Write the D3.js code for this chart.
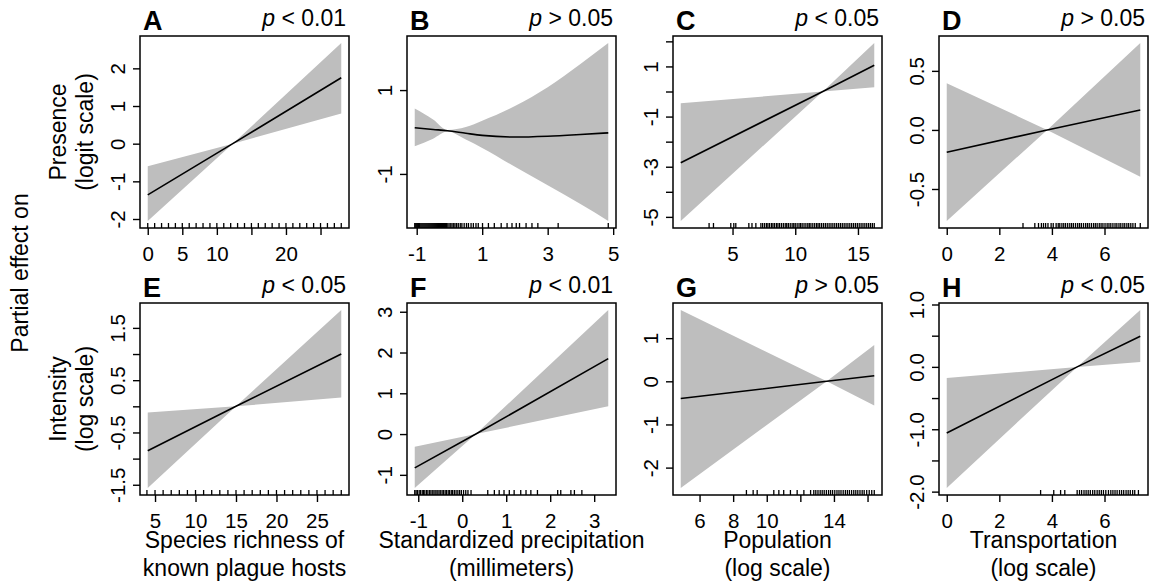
<!DOCTYPE html>
<html>
<head>
<meta charset="utf-8">
<script src="https://d3js.org/d3.v7.min.js"></script>
<style>
body {
  margin: 0;
  background: #fff;
}
svg text {
  font-family: "Liberation Sans", Arial, sans-serif;
  fill: #000;
}
.axis text {
  font-size: 20.5px;
}
.axis line {
  stroke: #000;
  stroke-width: 1.4;
}
.letter {
  font-size: 27px;
  font-weight: bold;
}
.pval, .title {
  font-size: 23px;
}
</style>
</head>
<body>
<script>

// A: presence ~ species richness
var xA = [0, 12.3, 28];
var fitA = [-1.36, 0, 1.75];
var loA = [-2.05, 0, 0.80];
var hiA = [-0.60, 0, 2.67];
var rugA = [0,1,2,3,4,5,6,7,8,9,10,11,12,13,14,15,16,17,18,19,20,21,22,23,24,25,26,27,28];

// B: presence ~ precipitation (quadratic)
var xB = [-1.06, -0.5, -0.06, 0.5, 1, 2, 3, 4, 4.85];
var fitB = [0.10, 0.06, 0.03, -0.03, -0.08, -0.12, -0.10, -0.06, -0.02];
var loB = [-0.34, -0.16, 0.01, -0.18, -0.38, -0.83, -1.27, -1.72, -2.12];
var hiB = [0.56, 0.30, 0.05, 0.12, 0.27, 0.62, 1.07, 1.62, 2.12];
var rugB = [-1.06,-1.03,-1.0,-0.97,-0.95,-0.92,-0.9,-0.87,-0.84,-0.81,-0.78,-0.75,-0.72,-0.69,-0.66,
  -0.63,-0.6,-0.57,-0.54,-0.51,-0.48,-0.45,-0.42,-0.39,-0.36,-0.33,-0.3,-0.27,-0.24,-0.21,-0.18,
  -0.15,-0.12,-0.09,-0.05,-0.01,0.04,0.08,0.13,0.17,0.22,0.27,0.33,0.38,0.45,0.52,0.58,0.66,0.73,
  0.81,0.88,1.01,1.19,1.37,1.58,1.76,1.91,2.04,2.14,2.34,2.52,2.70,3.32,4.85];

// C: presence ~ population
var xC = [0.87, 12.2, 16.3];
var fitC = [-2.84, 0, 1.05];
var loC = [-5.16, 0, 0.17];
var hiC = [-0.47, 0, 1.93];
var rugC = [3.13,3.48,4.86,5.1,5.26,6.3,6.55,6.86,7.26,7.4,7.55,7.7,7.82,7.95,8.1,8.22,8.35,8.5,
  8.62,8.75,8.9,9.05,9.2,9.32,9.45,9.6,9.75,9.88,10.0,10.15,10.3,10.42,10.55,10.7,10.85,11.0,11.12,
  11.25,11.4,11.55,11.7,11.82,11.95,12.1,12.25,12.4,12.55,12.7,12.85,13.0,13.15,13.3,13.45,13.6,
  13.75,13.9,14.05,14.2,14.35,14.5,14.65,14.8,14.95,15.1,15.25,15.4,15.55,15.7,15.85,16.0,16.15,16.3];

// D: presence ~ transportation
var xD = [0, 3.82, 7.36];
var fitD = [-0.189, 0, 0.169];
var loD = [-0.77, 0, -0.396];
var hiD = [0.396, 0, 0.735];
var rugD = [2.9,3.35,3.49,3.6,3.68,3.76,3.85,3.97,4.05,4.16,4.24,4.3,4.38,4.45,4.52,4.6,4.68,4.75,
  4.82,4.9,4.98,5.05,5.12,5.2,5.28,5.35,5.42,5.5,5.58,5.65,5.72,5.8,5.87,5.94,6.02,6.1,6.17,6.24,
  6.32,6.4,6.47,6.55,6.62,6.7,6.77,6.85,6.92,7.0,7.08,7.17,7.36];

// E: intensity ~ species richness
var xE = [4.1, 15, 28];
var fitE = [-0.85, 0, 1.00];
var loE = [-1.56, 0, 0.17];
var hiE = [-0.12, 0, 1.84];
var rugE = [4,5,6,7,8,9,10,11,12,13,14,15,16,17,18,19,20,21,22,23,24,25,26,27,28];

// F: intensity ~ precipitation
var xF = [-1.08, 0.31, 3.32];
var fitF = [-0.83, 0, 1.85];
var loF = [-1.32, 0, 0.68];
var hiF = [-0.31, 0, 3.04];
var rugF = [-1.08,-1.05,-1.02,-0.98,-0.95,-0.91,-0.88,-0.85,-0.81,-0.78,-0.74,-0.71,-0.67,-0.64,
  -0.6,-0.57,-0.53,-0.5,-0.46,-0.43,-0.39,-0.36,-0.32,-0.29,-0.25,-0.22,-0.18,-0.14,-0.1,-0.06,
  -0.02,0.03,0.08,0.13,0.2,0.58,0.73,0.84,0.95,1.07,1.18,1.33,1.45,1.56,1.71,2.17,2.24,2.47,2.55,2.72];

// G: intensity ~ population
var xG = [4.88, 13.57, 16.4];
var fitG = [-0.40, 0, 0.13];
var loG = [-2.47, 0, -0.56];
var hiG = [1.65, 0, 0.84];
var rugG = [8.79,9.19,9.43,10.42,10.72,11.01,11.41,11.81,12.21,12.61,12.8,12.92,13.05,13.18,13.3,
  13.42,13.55,13.68,13.8,13.92,14.05,14.18,14.3,14.42,14.55,14.68,14.8,14.92,15.05,15.18,15.3,
  15.42,15.55,15.68,15.8,15.95,16.1,16.25,16.4];

// H: intensity ~ transportation
var xH = [0, 4.96, 7.36];
var fitH = [-1.06, 0, 0.49];
var loH = [-1.94, 0, 0.08];
var hiH = [-0.18, 0, 0.91];
var rugH = [3.57,4.07,4.33,4.49,4.96,5.05,5.13,5.22,5.3,5.38,5.46,5.55,5.63,5.72,5.8,5.88,5.96,
  6.05,6.15,6.24,6.32,6.4,6.48,6.57,6.65,6.73,6.82,6.9,6.98,7.07,7.15,7.29];

// ticks and labels
var xTicksA = [0,5,10,15,20,25],  xLabelsA = ["0","5","10","","20",""];
var yTicksA = [-2,-1,0,1,2],       yLabelsA = ["-2","-1","0","1","2"];
var xTicksB = [-1,1,3,5],          xLabelsB = ["-1","1","3","5"];
var yTicksB = [-1,1],              yLabelsB = ["-1","1"];
var xTicksC = [5,10,15],           xLabelsC = ["5","10","15"];
var yTicksC = [-5,-4,-3,-2,-1,0,1,2], yLabelsC = ["-5","","-3","","-1","","1",""];
var xTicksD = [0,2,4,6],           xLabelsD = ["0","2","4","6"];
var yTicksD = [-0.5,0,0.5],        yLabelsD = ["-0.5","0.0","0.5"];
var xTicksE = [5,10,15,20,25],     xLabelsE = ["5","10","15","20","25"];
var yTicksE = [-1.5,-1,-0.5,0,0.5,1,1.5], yLabelsE = ["-1.5","","-0.5","","0.5","","1.5"];
var xTicksF = [-1,0,1,2,3],        xLabelsF = ["-1","0","1","2","3"];
var yTicksF = [-1,0,1,2,3],        yLabelsF = ["-1","0","1","2","3"];
var xTicksG = [6,8,10,12,14,16],   xLabelsG = ["6","8","10","","14",""];
var yTicksG = [-2,-1,0,1],         yLabelsG = ["-2","-1","0","1"];
var xTicksH = [0,2,4,6],           xLabelsH = ["0","2","4","6"];
var yTicksH = [-2,-1.5,-1,-0.5,0,0.5,1], yLabelsH = ["-2.0","","-1.0","","0.0","","1.0"];

var letters = ["A","B","C","D","E","F","G","H"];
var pTexts = ["< 0.01","> 0.05","< 0.05","> 0.05","< 0.05","< 0.01","> 0.05","< 0.05"];
var rowTitles = [["Presence","(logit scale)"],["Intensity","(log scale)"]];
var colTitles = [["Species richness of","known plague hosts"],["Standardized precipitation","(millimeters)"],
  ["Population","(log scale)"],["Transportation","(log scale)"]];

var colLeft = [140, 407, 673, 939],
    rowTop = [36, 303],
    panelW = 209,
    panelH = 192;

var svg = d3.select("body").append("svg")
    .attr("width", 1153)
    .attr("height", 585);

var panels = [
  [xA, fitA, loA, hiA, rugA, xTicksA, xLabelsA, yTicksA, yLabelsA],
  [xB, fitB, loB, hiB, rugB, xTicksB, xLabelsB, yTicksB, yLabelsB],
  [xC, fitC, loC, hiC, rugC, xTicksC, xLabelsC, yTicksC, yLabelsC],
  [xD, fitD, loD, hiD, rugD, xTicksD, xLabelsD, yTicksD, yLabelsD],
  [xE, fitE, loE, hiE, rugE, xTicksE, xLabelsE, yTicksE, yLabelsE],
  [xF, fitF, loF, hiF, rugF, xTicksF, xLabelsF, yTicksF, yLabelsF],
  [xG, fitG, loG, hiG, rugG, xTicksG, xLabelsG, yTicksG, yLabelsG],
  [xH, fitH, loH, hiH, rugH, xTicksH, xLabelsH, yTicksH, yLabelsH]
];

panels.forEach(function(p, i) {
  var col = i % 4, row = Math.floor(i / 4);
  var xs = p[0], fit = p[1], lo = p[2], hi = p[3];

  var g = svg.append("g")
      .attr("transform", "translate(" + colLeft[col] + "," + rowTop[row] + ")");

  // R style 4% padding
  var xExt = d3.extent(xs),
      yExt = [d3.min(lo), d3.max(hi)];
  var xPad = (xExt[1] - xExt[0]) * 0.04,
      yPad = (yExt[1] - yExt[0]) * 0.04;

  var xScale = d3.scaleLinear()
      .domain([xExt[0] - xPad, xExt[1] + xPad])
      .range([0, panelW]);
  var yScale = d3.scaleLinear()
      .domain([yExt[0] - yPad, yExt[1] + yPad])
      .range([panelH, 0]);

  var rows = xs.map(function(d, j) { return {x: d, fit: fit[j], lo: lo[j], hi: hi[j]}; });
  var curve = xs.length > 3 ? d3.curveMonotoneX : d3.curveLinear;

  g.append("path")
      .datum(rows)
      .attr("fill", "#bebebe")
      .attr("d", d3.area()
        .x(function(d) { return xScale(d.x); })
        .y0(function(d) { return yScale(d.lo); })
        .y1(function(d) { return yScale(d.hi); })
        .curve(curve));

  g.append("path")
      .datum(rows)
      .attr("fill", "none")
      .attr("stroke", "#000")
      .attr("stroke-width", 1.6)
      .attr("d", d3.line()
        .x(function(d) { return xScale(d.x); })
        .y(function(d) { return yScale(d.fit); })
        .curve(curve));

  // rug along bottom
  g.selectAll(".rug")
      .data(p[4])
    .enter().append("line")
      .attr("class", "rug")
      .attr("x1", function(d) { return xScale(d); })
      .attr("x2", function(d) { return xScale(d); })
      .attr("y1", panelH)
      .attr("y2", panelH - 5)
      .attr("stroke", "#000")
      .attr("stroke-width", 1.3);

  var xl = p[6], yl = p[8];

  var xAxis = g.append("g")
      .attr("class", "axis")
      .attr("transform", "translate(0," + panelH + ")")
      .call(d3.axisBottom(xScale)
        .tickValues(p[5])
        .tickSize(7)
        .tickPadding(11)
        .tickFormat(function(d, j) { return xl[j]; }));
  xAxis.select(".domain").remove();

  var yAxis = g.append("g")
      .attr("class", "axis")
      .call(d3.axisLeft(yScale)
        .tickValues(p[7])
        .tickSize(7)
        .tickFormat(function(d, j) { return yl[j]; }));
  yAxis.select(".domain").remove();
  yAxis.selectAll("text")
      .attr("x", null)
      .attr("dy", null)
      .attr("text-anchor", "middle")
      .attr("transform", "translate(-15,0) rotate(-90)");

  g.append("rect")
      .attr("width", panelW)
      .attr("height", panelH)
      .attr("fill", "none")
      .attr("stroke", "#000")
      .attr("stroke-width", 1.5);

  g.append("text")
      .attr("class", "letter")
      .attr("x", 3)
      .attr("y", -6)
      .text(letters[i]);

  var pt = g.append("text")
      .attr("class", "pval")
      .attr("x", panelW - 3)
      .attr("y", -10)
      .attr("text-anchor", "end");
  pt.append("tspan").style("font-style", "italic").text("p");
  pt.append("tspan").text(" " + pTexts[i]);
});

// row titles
rowTitles.forEach(function(t, r) {
  var cy = rowTop[r] + panelH / 2;
  [66, 93].forEach(function(bx, k) {
    svg.append("text")
        .attr("class", "title")
        .attr("text-anchor", "middle")
        .attr("transform", "translate(" + bx + "," + cy + ") rotate(-90)")
        .text(t[k]);
  });
});

svg.append("text")
    .attr("class", "title")
    .attr("text-anchor", "middle")
    .attr("transform", "translate(28,273) rotate(-90)")
    .text("Partial effect on");

// column titles under bottom row
colTitles.forEach(function(t, c) {
  var cx = colLeft[c] + panelW / 2;
  [548, 576].forEach(function(by, k) {
    svg.append("text")
        .attr("class", "title")
        .attr("text-anchor", "middle")
        .attr("x", cx)
        .attr("y", by)
        .text(t[k]);
  });
});

</script>
</body>
</html>
